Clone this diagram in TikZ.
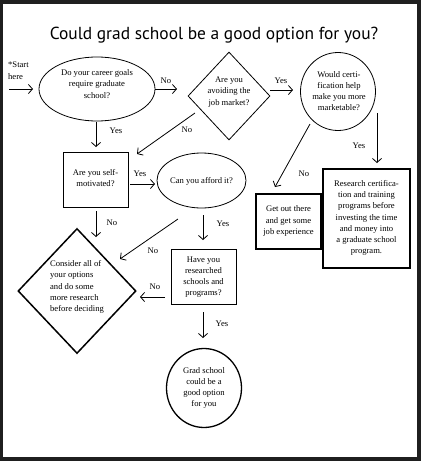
\documentclass[tikz,border=0pt]{standalone}
\usepackage{fontspec}
\setmainfont{Liberation Serif}
\newfontfamily\titlefont{PT Sans}
\usetikzlibrary{shapes.geometric,arrows.meta}
\begin{document}
\begin{tikzpicture}[x=1pt,y=-1pt,
  txt/.style={font=\fontsize{8.6}{11.2}\selectfont, align=center, inner sep=0pt},
  lbl/.style={font=\fontsize{8.6}{10}\selectfont, inner sep=0pt},
  arr/.style={line width=0.8pt, -{Straight Barb[length=4pt,width=9pt,line width=0.8pt]}},
  ell/.style={draw, ellipse, line width=0.8pt, inner sep=0pt},
  dia/.style={draw, diamond, inner sep=0pt},
  thinbox/.style={draw, rectangle, line width=0.8pt, inner sep=0pt},
  thickbox/.style={draw, rectangle, line width=2.6pt, inner sep=0pt}]
% frame
\fill[black!88] (0,0) rectangle (421,461);
\fill[white] (3,4) rectangle (417,457);
\useasboundingbox (0,0) rectangle (421,461);
% title
\node[font=\titlefont\fontsize{17.4}{20}\selectfont, inner sep=0pt, anchor=base] (title) at (214,39) {Could grad school be a good option for you?};
% start
\node[txt, align=left, anchor=north west] (start) at (8,62) {*Start\\here};
% nodes
\node[ell, minimum width=116pt, minimum height=64pt] (e1) at (97,89) {};
\node[txt] (e1t) at (97,84) {Do your career goals\\require graduate\\school?};
\node[dia, line width=0.8pt, minimum width=82pt, minimum height=88pt] (d1) at (229,96) {};
\node[txt] (d1t) at (229,92) {Are you\\avoiding the\\job market?};
\node[ell, minimum width=75pt, minimum height=78pt] (c1) at (338,91.5) {};
\node[txt] (c1t) at (339,91) {Would certi-\\fication help\\make you more\\marketable?};
\node[thickbox, minimum width=87pt, minimum height=99pt] (r1) at (366.5,218.5) {};
\node[txt] (r1t) at (366.5,218) {Research certifica-\\tion and training\\programs before\\investing the time\\and money into\\a graduate school\\program.};
\node[thickbox, minimum width=65pt, minimum height=55pt] (r2) at (288.5,221.5) {};
\node[txt] (r2t) at (288.5,221) {Get out there\\and get some\\job experience};
\node[thinbox, minimum width=65pt, minimum height=55pt] (sm) at (95.5,179.5) {};
\node[txt] (smt) at (95.5,178) {Are you self-\\motivated?};
\node[ell, minimum width=89pt, minimum height=55pt] (e2) at (201.5,180.5) {};
\node[txt] (e2t) at (201.5,181) {Can you afford it?};
\node[dia, line width=1.5pt, minimum width=118pt, minimum height=125pt] (d2) at (77,291) {};
\node[txt, align=left] (d2t) at (77,287) {Consider all of\\your options\\and do some\\more research\\before deciding};
\node[thinbox, minimum width=65pt, minimum height=55pt] (hr) at (203.5,276.5) {};
\node[txt] (hrt) at (203.5,277) {Have you\\researched\\schools and\\programs?};
\node[ell, line width=1.3pt, minimum width=75pt, minimum height=79pt] (c2) at (204,388) {};
\node[txt] (c2t) at (204,388) {Grad school\\could be a\\good option\\for you};
% arrow end points
\coordinate (s0) at (9,89);    \coordinate (s1) at (33,89);
\coordinate (a0) at (155,89);  \coordinate (a1) at (177,89);
\coordinate (b0) at (270,90);  \coordinate (b1) at (293,90);
\coordinate (f0) at (377,113); \coordinate (f1) at (377,163);
\coordinate (g0) at (310,124); \coordinate (g1) at (275,187);
\coordinate (h0) at (96,122);  \coordinate (h1) at (96,147);
\coordinate (i0) at (195,113); \coordinate (i1) at (137,154);
\coordinate (j0) at (130,184); \coordinate (j1) at (155,184);
\coordinate (k0) at (203,215); \coordinate (k1) at (203,240);
\coordinate (l0) at (178,219); \coordinate (l1) at (120,259);
\coordinate (m0) at (96,211);  \coordinate (m1) at (96,237);
\coordinate (n0) at (165,297); \coordinate (n1) at (140,297);
\coordinate (o0) at (203,312); \coordinate (o1) at (203,338);
% connectors
\draw[arr] (s0) -- (s1);
\draw[arr] (a0) -- (a1);
\draw[arr] (b0) -- (b1);
\draw[arr] (f0) -- (f1);
\draw[arr] (g0) -- (g1);
\draw[arr] (h0) -- (h1);
\draw[arr] (i0) -- (i1);
\draw[arr] (j0) -- (j1);
\draw[arr] (k0) -- (k1);
\draw[arr] (l0) -- (l1);
\draw[arr] (m0) -- (m1);
\draw[arr] (n0) -- (n1);
\draw[arr] (o0) -- (o1);
% labels
\node[lbl] (la) at (166,81) {No};
\node[lbl] (lb) at (281,81) {Yes};
\node[lbl] (lf) at (359,146) {Yes};
\node[lbl] (lg) at (304,174) {No};
\node[lbl] (lh) at (116,131) {Yes};
\node[lbl] (li) at (187,130) {No};
\node[lbl] (lj) at (140,174) {Yes};
\node[lbl] (lk) at (223,224) {Yes};
\node[lbl] (ll) at (153,251) {No};
\node[lbl] (lm) at (112,223) {No};
\node[lbl] (ln) at (155,287) {No};
\node[lbl] (lo) at (222,324) {Yes};
\end{tikzpicture}
\end{document}
